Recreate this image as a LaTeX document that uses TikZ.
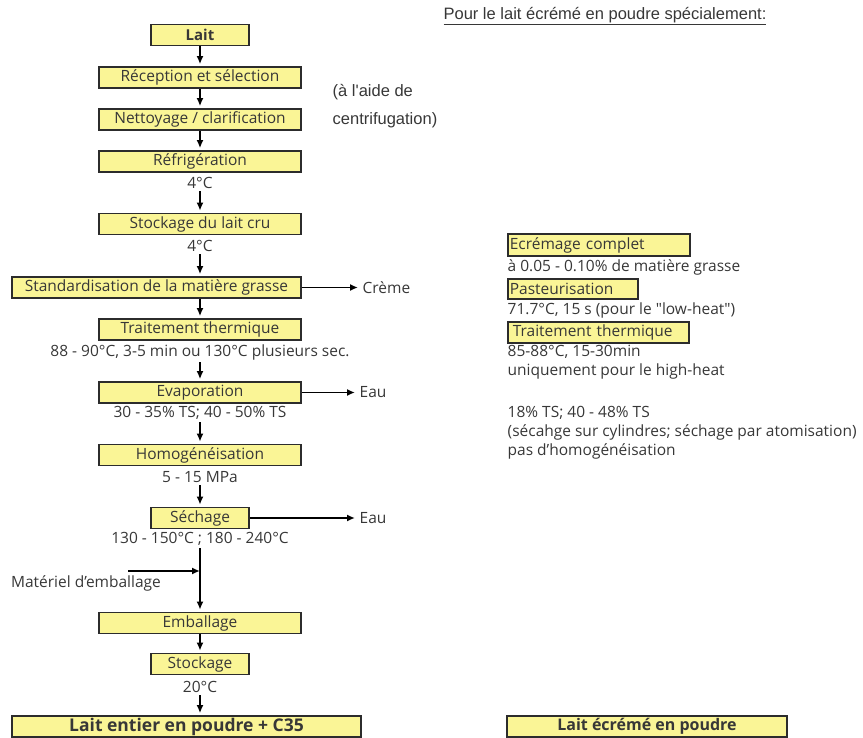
\documentclass[tikz,border=0pt]{standalone}
\usepackage{fontspec}
\setmainfont{Open Sans}
\newfontfamily\arialf{Liberation Sans}
\usetikzlibrary{arrows.meta}
\definecolor{boxyellow}{RGB}{250,245,150}
\definecolor{ink}{RGB}{55,55,55}
\tikzset{
  box/.style={draw=ink!80!black, fill=boxyellow, line width=1.7pt, minimum height=21pt, inner sep=0pt, text=ink},
  wide/.style={box, minimum width=202pt},
  narrow/.style={box, minimum width=98pt},
  rbox/.style={box, align=left, inner xsep=2pt, anchor=west},
  txt/.style={text=ink, inner sep=2.5pt},
  rtxt/.style={txt, anchor=west},
  flow/.style={-{Latex[length=8pt, width=7pt]}, line width=1.8pt, shorten >=2pt}
}
\begin{document}
\begin{tikzpicture}[x=1pt, y=-1pt, font=\fontsize{15.5}{17}\selectfont]
\useasboundingbox (0,0) rectangle (863,738);
% main column
\node[narrow, font=\fontsize{15}{17}\bfseries] (lait) at (200,35) {Lait};
\node[wide] (recep) at (200,77.5) {Réception et sélection};
\node[wide] (nett) at (200,119.5) {Nettoyage / clarification};
\node[wide] (refr) at (200,161.5) {Réfrigération};
\node[txt] (t4a) at (200,183) {4°C};
\node[wide] (stock) at (200,224) {Stockage du lait cru};
\node[txt] (t4b) at (200,246) {4°C};
\node[box, minimum width=289pt] (stand) at (156.5,287.5) {Standardisation de la matière grasse};
\node[wide] (trait) at (200,329.5) {Traitement thermique};
\node[txt] (ttrait) at (200,352) {88 - 90°C, 3-5 min ou 130°C plusieurs sec.};
\node[wide] (evap) at (200,392.5) {Evaporation};
\node[txt] (tevap) at (200,413) {30 - 35\% TS; 40 - 50\% TS};
\node[wide] (homog) at (200,455) {Homogénéisation};
\node[txt] (thomog) at (200,477) {5 - 15 MPa};
\node[narrow] (sech) at (200,518) {Séchage};
\node[txt] (tsech) at (200,539) {130 - 150°C ; 180 - 240°C};
\coordinate (join) at (200,571);
\coordinate (matstart) at (128,571);
\node[txt] (mat) at (86,583) {Matériel d'emballage};
\node[wide] (emb) at (200,623) {Emballage};
\node[narrow] (stock2) at (200,664) {Stockage};
\node[txt] (t20) at (200,687) {20°C};
\node[box, minimum width=349pt, font=\fontsize{17.5}{19}\bfseries] (entier) at (186.5,726.5) {Lait entier en poudre + C35};
% side outputs
\node[txt, anchor=west] (creme) at (360,287.5) {Crème};
\node[txt, anchor=west] (eau1) at (357,392.5) {Eau};
\node[txt, anchor=west] (eau2) at (357,518) {Eau};
\node[txt, anchor=west, align=left, font=\arialf\fontsize{16.5}{28}\selectfont] (aide) at (330,106) {(à l'aide de\\centrifugation)};
% right column
\node[txt, font=\arialf\fontsize{16.5}{18}\selectfont] (titre) at (605,16) {\underline{Pour le lait écrémé en poudre spécialement:}};
\node[rbox, text width=178pt, minimum height=22pt] (ecr) at (507,245) {Ecrémage complet};
\node[rtxt] (l1) at (505,267) {à 0.05 - 0.10\% de matière grasse};
\node[rbox, text width=126pt, minimum height=20pt] (past) at (507,289) {Pasteurisation};
\node[rtxt] (l2) at (505,310) {71.7°C, 15 s (pour le \textquotedbl low-heat\textquotedbl)};
\node[rbox, text width=177pt] (trait2) at (507,332.5) {\hspace{3pt}Traitement thermique};
\node[rtxt] (l3) at (505,352) {85-88°C, 15-30min};
\node[rtxt] (l4) at (505,371) {uniquement pour le high-heat};
\node[rtxt] (l5) at (505,413) {18\% TS; 40 - 48\% TS};
\node[rtxt] (l6) at (505,432) {(sécahge sur cylindres; séchage par atomisation)};
\node[rtxt] (l7) at (505,451) {pas d'homogénéisation};
\node[box, minimum width=280pt, font=\fontsize{16}{18}\bfseries] (ecreme) at (647,726.5) {Lait écrémé en poudre};
% arrows
\draw[flow] (lait) -- (recep);
\draw[flow] (recep) -- (nett);
\draw[flow] (nett) -- (refr);
\draw[flow] (t4a) -- (stock);
\draw[flow] (t4b) -- (t4b |- stand.north);
\draw[flow] (trait |- stand.south) -- (trait);
\draw[flow] (stand) -- (creme);
\draw[flow] (ttrait) -- (evap);
\draw[flow] (evap) -- (eau1);
\draw[flow] (tevap) -- (homog);
\draw[flow] (thomog) -- (sech);
\draw[flow] (sech) -- (eau2);
\draw[flow] (tsech) -- (emb);
\draw[flow, shorten >=0pt] (matstart) -- (join);
\draw[flow] (emb) -- (stock2);
\draw[flow] (t20) -- (t20 |- entier.north);
\end{tikzpicture}
\end{document}
